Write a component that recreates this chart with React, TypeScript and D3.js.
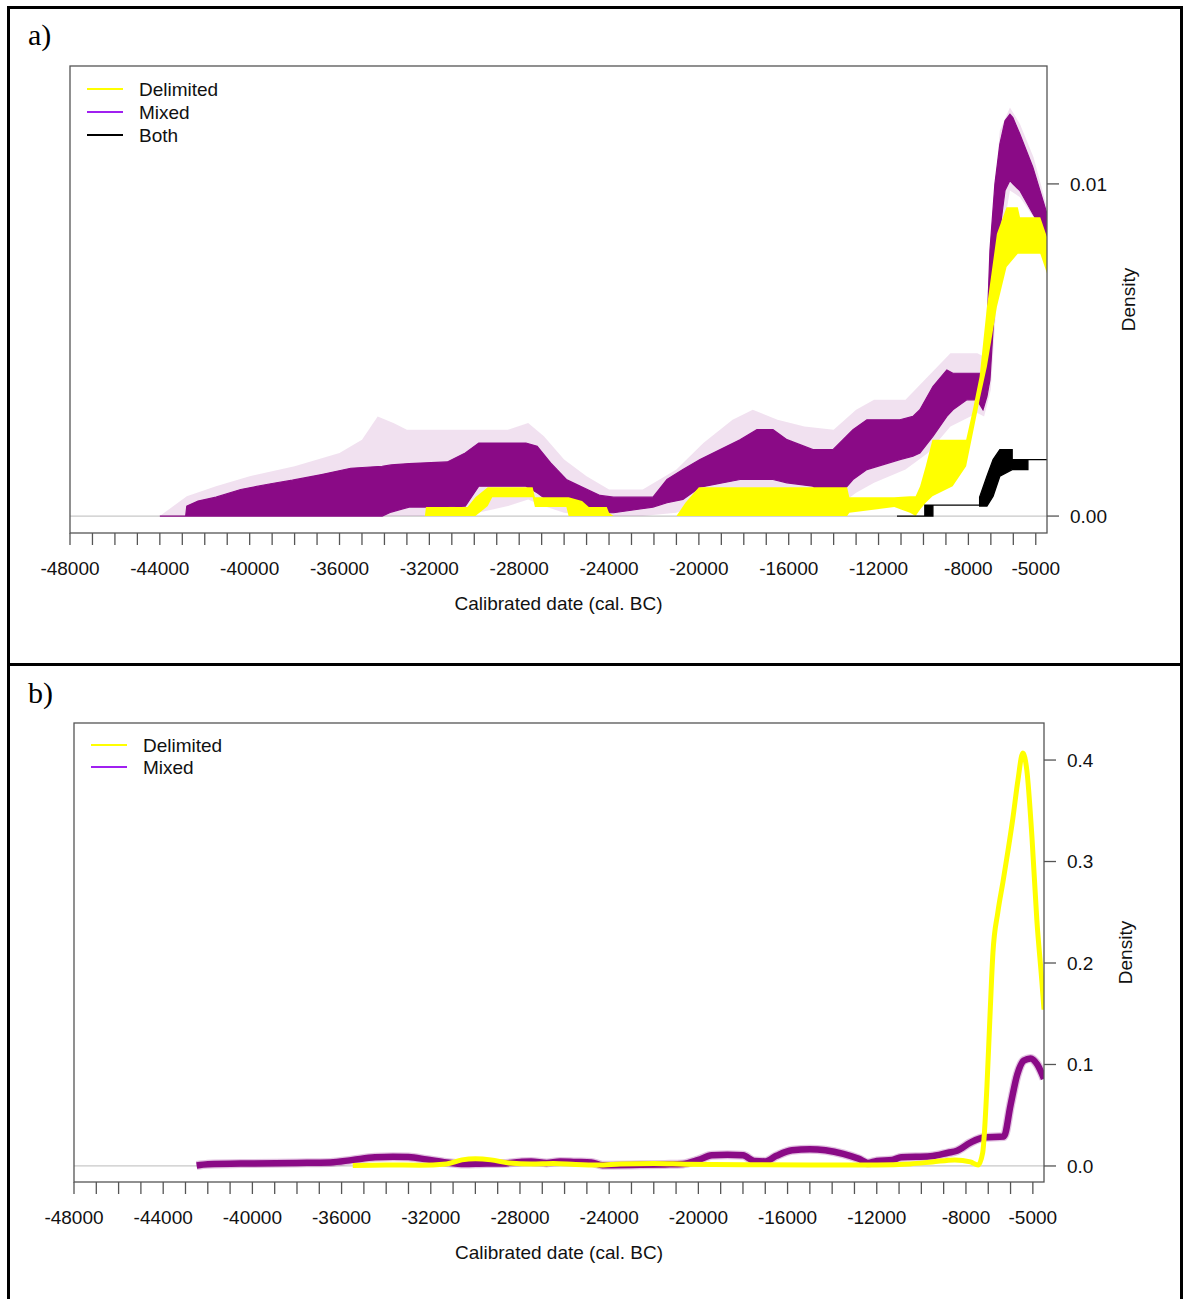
import React from 'react';
import * as d3 from 'd3';

type Band = [number, number, number];
type Pt = [number, number];

// ---- panel a: envelopes of the simulated densities, [year, low, high] ----
const purpleCoreA: Band[] = [
  [-44000, 0, 0], [-42850, 0, 0], [-42800, 0, 0.0003], [-42300, 0, 0.00045],
  [-41500, 0, 0.00057], [-40400, 0, 0.0008], [-39000, 0, 0.00098], [-38100, 0, 0.00108],
  [-36800, 0, 0.00125], [-35500, 0, 0.00144], [-34100, 0, 0.0015], [-33700, 0.00012, 0.00154],
  [-32900, 0.00027, 0.00158], [-31200, 0.00027, 0.00163], [-30400, 0.0003, 0.0019],
  [-29800, 0.0009, 0.0022], [-27700, 0.0009, 0.0022], [-27200, 0.0007, 0.0021],
  [-26600, 0.0004, 0.0016], [-25900, 0.0003, 0.0011], [-25200, 0.0003, 0.00087],
  [-24400, 0.0001, 0.00062], [-23800, 0.0001, 0.00057], [-22045, 0.00027, 0.00057],
  [-21420, 0.0004, 0.0011], [-20710, 0.0005, 0.0014], [-19950, 0.00087, 0.0017],
  [-18170, 0.0011, 0.0023], [-17415, 0.0011, 0.0026], [-16700, 0.0011, 0.0026],
  [-16080, 0.001, 0.0023], [-14920, 0.0009, 0.002], [-14030, 0.0004, 0.002],
  [-13140, 0.0011, 0.0026], [-12520, 0.0014, 0.0029], [-11050, 0.0017, 0.0029],
  [-10470, 0.0018, 0.003], [-10160, 0.0019, 0.0032], [-9580, 0.0024, 0.0039],
  [-8960, 0.003, 0.0044], [-8690, 0.0032, 0.0043], [-8070, 0.0035, 0.0043],
  [-7620, 0.0035, 0.0043], [-7350, 0.0032, 0.0043], [-7175, 0.0036, 0.0055],
  [-7040, 0.0041, 0.008], [-6820, 0.0065, 0.01], [-6600, 0.0086, 0.0112],
  [-6370, 0.0098, 0.0119], [-6150, 0.0101, 0.0121], [-6020, 0.01, 0.012],
  [-5710, 0.0098, 0.0115], [-5130, 0.0091, 0.0105], [-4500, 0.0084, 0.0091],
];

const purpleHaloA: Band[] = [
  [-44000, 0, 0], [-42800, 0, 0.0006], [-41500, 0, 0.0009], [-40000, 0, 0.0012],
  [-38000, 0, 0.0015], [-36000, 0, 0.0019], [-35000, 0, 0.0023], [-34300, 0, 0.003],
  [-33600, 0, 0.0028], [-33000, 0, 0.0026], [-30500, 0, 0.0026], [-28500, 0.0003, 0.0026],
  [-27600, 0.0005, 0.0028], [-26900, 0.0003, 0.0024], [-26000, 0.0001, 0.0017],
  [-25000, 0, 0.0012], [-24000, 0, 0.0008], [-22500, 0, 0.0008], [-21000, 0.0001, 0.0014],
  [-19800, 0.0004, 0.0022], [-18500, 0.0007, 0.0029], [-17600, 0.0008, 0.0032],
  [-16500, 0.0007, 0.0029], [-15300, 0.0005, 0.0027], [-14000, 0.0002, 0.0026],
  [-13000, 0.0007, 0.0032], [-12200, 0.001, 0.0035], [-10800, 0.0014, 0.0035],
  [-9800, 0.0019, 0.0042], [-8800, 0.0027, 0.0049], [-7600, 0.0031, 0.0049],
  [-7300, 0.003, 0.0048], [-7000, 0.0038, 0.0084], [-6600, 0.008, 0.0116],
  [-6150, 0.0098, 0.0123], [-5700, 0.0096, 0.0118], [-5100, 0.009, 0.0108],
  [-4500, 0.0082, 0.0093],
];

const yellowCoreA: Band[] = [
  [-32200, 0, 0], [-32150, 0, 0.00027], [-30300, 0, 0.00027], [-29950, 0, 0.00057],
  [-29400, 0.0003, 0.00087], [-29200, 0.00057, 0.00087], [-27400, 0.00057, 0.00087],
  [-27300, 0.00027, 0.00057], [-25900, 0.00027, 0.00057], [-25800, 0, 0.00057],
  [-25200, 0, 0.00045], [-24900, 0, 0.00027], [-24100, 0, 0.00027], [-24000, 0, 0.0001],
  [-23800, 0, 0], [-21000, 0, 0], [-20600, 0, 0.0004], [-20000, 0, 0.00087],
  [-13400, 0, 0.00087], [-13300, 0.0001, 0.00057], [-11300, 0.00027, 0.00057],
  [-10600, 0.0001, 0.0006], [-10350, 0, 0.0006], [-10150, 0.0002, 0.0009],
  [-9900, 0.0004, 0.0015], [-9600, 0.0006, 0.0023], [-8700, 0.0009, 0.0023],
  [-8100, 0.0015, 0.0023], [-7800, 0.0025, 0.0032], [-7500, 0.0035, 0.0042],
  [-7175, 0.0045, 0.0063], [-6730, 0.0063, 0.0085], [-6300, 0.0075, 0.0093],
  [-5800, 0.0079, 0.0093], [-5700, 0.0079, 0.009], [-4800, 0.0079, 0.009],
  [-4500, 0.0073, 0.0084],
];

const bothA: Band[] = [
  [-11180, 0, 0], [-9940, 0, 0], [-9940, 0, 0.00033], [-9580, 0, 0.00033],
  [-9580, 0.00033, 0.00033], [-7500, 0.00033, 0.00033], [-7500, 0.0003, 0.00057],
  [-7175, 0.0003, 0.0012], [-6900, 0.0006, 0.0017], [-6600, 0.0012, 0.002],
  [-6050, 0.0014, 0.002], [-6050, 0.0014, 0.0017], [-5350, 0.0014, 0.0017],
  [-5350, 0.0017, 0.0017], [-4500, 0.0017, 0.0017],
];

// ---- panel b: density curves, [year, density] ----
const purpleB: Pt[] = [
  [-42500, 0.0005], [-42000, 0.0017], [-40000, 0.0025], [-38000, 0.003], [-36500, 0.0035],
  [-35500, 0.006], [-34500, 0.0085], [-33700, 0.0092], [-33000, 0.0088], [-32200, 0.0065],
  [-31300, 0.0035], [-30500, 0.002], [-29500, 0.0025], [-28800, 0.0025], [-28000, 0.004],
  [-27500, 0.0045], [-26800, 0.003], [-26200, 0.0045], [-25500, 0.004], [-24800, 0.0035],
  [-24300, 0.0008], [-23000, 0.001], [-21500, 0.0015], [-20700, 0.002], [-20000, 0.006],
  [-19400, 0.0105], [-18700, 0.011], [-18000, 0.0105], [-17500, 0.005], [-17000, 0.0045],
  [-16500, 0.01], [-15800, 0.0155], [-15000, 0.0165], [-14300, 0.0155], [-13500, 0.012],
  [-12800, 0.007], [-12400, 0.003], [-12000, 0.005], [-11300, 0.006], [-10900, 0.0085],
  [-9600, 0.0095], [-8800, 0.013], [-8400, 0.015], [-7800, 0.023], [-7200, 0.028],
  [-6300, 0.029], [-6000, 0.06], [-5700, 0.09], [-5400, 0.104], [-5100, 0.106],
  [-4800, 0.1], [-4500, 0.086],
];

const yellowB: Pt[] = [
  [-35500, 0.0005], [-34000, 0.001], [-32500, 0.0008], [-31300, 0.002], [-30600, 0.006],
  [-30000, 0.007], [-29300, 0.006], [-28500, 0.003], [-27500, 0.002], [-26500, 0.0025],
  [-25500, 0.0015], [-24500, 0.001], [-23500, 0.002], [-22000, 0.0025], [-20600, 0.0018],
  [-18000, 0.0012], [-15000, 0.001], [-12000, 0.001], [-10500, 0.002], [-9500, 0.004],
  [-8500, 0.006], [-7800, 0.004], [-7450, 0.001], [-7250, 0.013], [-7060, 0.078],
  [-6930, 0.144], [-6790, 0.21], [-6570, 0.25], [-6340, 0.28], [-6120, 0.31],
  [-5900, 0.342], [-5670, 0.38], [-5450, 0.407], [-5270, 0.39], [-5040, 0.324],
  [-4820, 0.242], [-4600, 0.183], [-4500, 0.154],
];

const xTicks = d3.range(-48000, -4999, 1000);
const xLabels = [-48000, -44000, -40000, -36000, -32000, -28000, -24000, -20000, -16000, -12000, -8000, -5000];
const yTicksA = [0, 0.01];
const yTicksB = [0, 0.1, 0.2, 0.3, 0.4];
const namesA = ['Delimited', 'Mixed', 'Both'];
const namesB = ['Delimited', 'Mixed'];

const X_DOMAIN: [number, number] = [-48000, -4500];
const FONT = '"Liberation Sans", Arial, sans-serif';
const SERIF = '"Liberation Serif", "Times New Roman", serif';
const DENSE = '#8a0a86';
const YELLOW = '#ffff00';
const AXIS = '#555555';
const LEGEND_COLORS: Record<string, string> = { Delimited: YELLOW, Mixed: '#a020f0', Both: '#000000' };

type Box = { left: number; right: number; top: number; bottom: number };

function Panel(props: {
  id: string; tag: string; tagY: number; box: Box; yDomain: [number, number];
  yTicks: number[]; yFmt: (v: number) => string; names: string[];
  legendX: number; legendY: number; legendGap: number;
  draw: (x: d3.ScaleLinear<number, number>, y: d3.ScaleLinear<number, number>) => React.ReactNode;
}) {
  const { id, tag, tagY, box, yDomain, yTicks, yFmt, names, legendX, legendY, legendGap, draw } = props;
  const x = d3.scaleLinear().domain(X_DOMAIN).range([box.left, box.right]);
  const y = d3.scaleLinear().domain(yDomain).range([box.bottom, box.top]);
  const midY = (box.top + box.bottom) / 2;

  return (
    <g fontFamily={FONT} fontSize={19} fill="#111">
      <text x={28} y={tagY} fontFamily={SERIF} fontSize={30} fill="#000">{tag}</text>
      <defs>
        <clipPath id={id}>
          <rect x={box.left} y={box.top} width={box.right - box.left} height={box.bottom - box.top} />
        </clipPath>
      </defs>
      <line x1={box.left} x2={box.right} y1={y(0)} y2={y(0)} stroke="#c8c8c8" strokeWidth={1.3} />
      <g clipPath={`url(#${id})`}>{draw(x, y)}</g>
      <rect x={box.left} y={box.top} width={box.right - box.left} height={box.bottom - box.top}
        fill="none" stroke={AXIS} strokeWidth={1.3} />

      {xTicks.map(t => (
        <line key={t} x1={x(t)} x2={x(t)} y1={box.bottom} y2={box.bottom + 12} stroke={AXIS} strokeWidth={1.3} />
      ))}
      {xLabels.map(t => (
        <text key={t} x={x(t)} y={box.bottom + 35} dy="0.35em" textAnchor="middle">{t}</text>
      ))}
      <text x={(box.left + box.right) / 2} y={box.bottom + 70} dy="0.35em" textAnchor="middle">
        Calibrated date (cal. BC)
      </text>

      {yTicks.map(t => (
        <g key={t}>
          <line x1={box.right} x2={box.right + 12} y1={y(t)} y2={y(t)} stroke={AXIS} strokeWidth={1.3} />
          <text x={box.right + 23} y={y(t)} dy="0.35em">{yFmt(t)}</text>
        </g>
      ))}
      <text transform={`translate(${box.right + 81},${midY}) rotate(-90)`} textAnchor="middle" dy="0.35em">
        Density
      </text>

      {names.map((n, i) => (
        <g key={n}>
          <line x1={legendX} x2={legendX + 36} y1={legendY + i * legendGap} y2={legendY + i * legendGap}
            stroke={LEGEND_COLORS[n]} strokeWidth={2.2} />
          <text x={legendX + 52} y={legendY + i * legendGap} dy="0.35em">{n}</text>
        </g>
      ))}
    </g>
  );
}

export default function App() {
  const drawA = (x: d3.ScaleLinear<number, number>, y: d3.ScaleLinear<number, number>) => {
    const band = d3.area<Band>().x(d => x(d[0])).y0(d => y(d[1])).y1(d => y(d[2]));
    return (
      <>
        <path d={band(purpleHaloA) ?? ''} fill={DENSE} fillOpacity={0.12} />
        <path d={band(purpleCoreA) ?? ''} fill={DENSE} stroke={DENSE} strokeWidth={1.2} />
        <path d={band(yellowCoreA) ?? ''} fill={YELLOW} />
        <path d={band(bothA) ?? ''} fill="#000" stroke="#000" strokeWidth={1.3} />
      </>
    );
  };

  const drawB = (x: d3.ScaleLinear<number, number>, y: d3.ScaleLinear<number, number>) => {
    const line = d3.line<Pt>().x(d => x(d[0])).y(d => y(d[1])).curve(d3.curveMonotoneX);
    return (
      <>
        <path d={line(purpleB) ?? ''} fill="none" stroke={DENSE} strokeOpacity={0.25} strokeWidth={9}
          strokeLinejoin="round" />
        <path d={line(purpleB) ?? ''} fill="none" stroke={DENSE} strokeWidth={6.5} strokeLinejoin="round" />
        <path d={line(yellowB) ?? ''} fill="none" stroke={YELLOW} strokeWidth={5} strokeLinejoin="round" />
      </>
    );
  };

  return (
    <svg width={1187} height={1299} style={{ position: 'absolute', left: 0, top: 0, background: '#fff' }}>
      <rect x={0} y={0} width={1187} height={1299} fill="#fff" />
      <Panel id="clipA" tag="a)" tagY={45} box={{ left: 70, right: 1047, top: 66, bottom: 533 }}
        yDomain={[-0.00051, 0.01355]} yTicks={yTicksA} yFmt={d3.format('.2f')} names={namesA}
        legendX={87} legendY={89} legendGap={23} draw={drawA} />
      <Panel id="clipB" tag="b)" tagY={703} box={{ left: 74, right: 1044, top: 723, bottom: 1182 }}
        yDomain={[-0.0158, 0.4365]} yTicks={yTicksB} yFmt={d3.format('.1f')} names={namesB}
        legendX={91} legendY={745} legendGap={22} draw={drawB} />
      <g stroke="#000" strokeWidth={3} fill="none">
        <line x1={8.5} x2={8.5} y1={6} y2={1299} />
        <line x1={1181.5} x2={1181.5} y1={6} y2={1299} />
        <line x1={7} x2={1183} y1={7.5} y2={7.5} />
        <line x1={7} x2={1183} y1={664.5} y2={664.5} />
      </g>
    </svg>
  );
}
